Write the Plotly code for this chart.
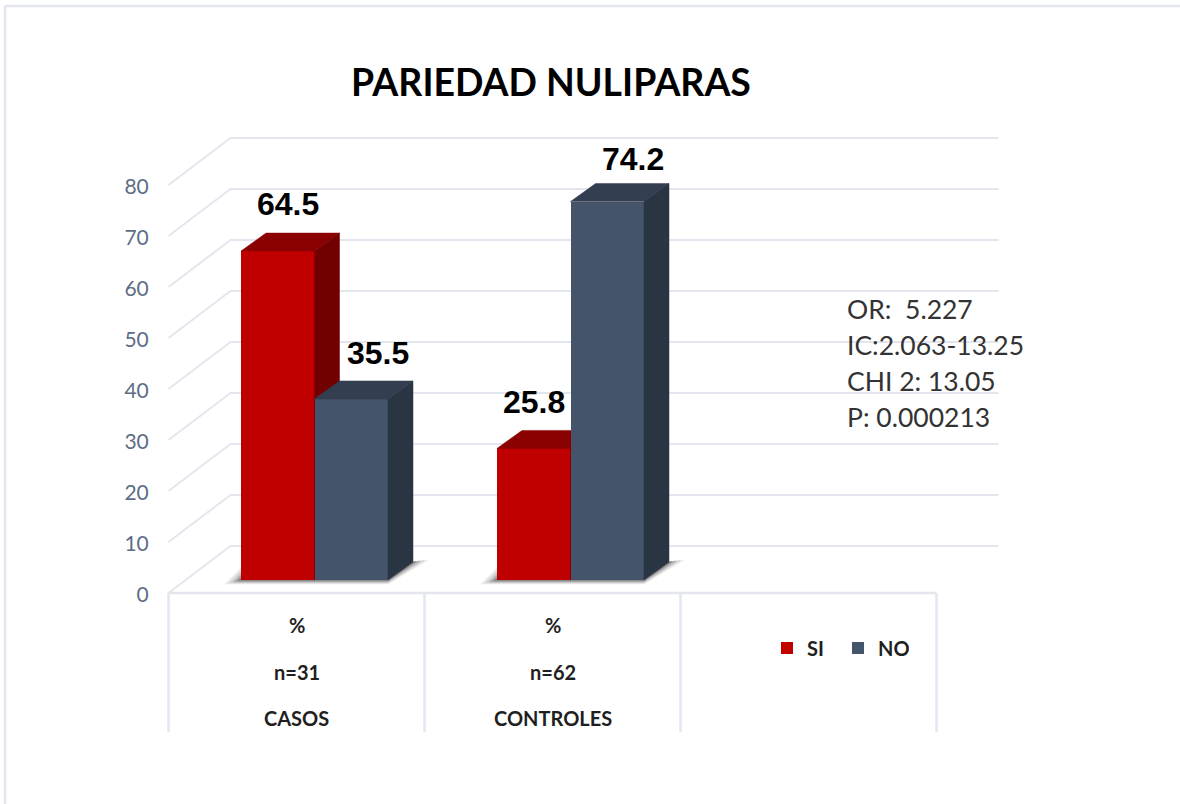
import plotly.graph_objects as go

# ---- data ----
GROUPS = ["CASOS", "CONTROLES"]
UNITS = ["%", "%"]
SAMPLE = ["n=31", "n=62"]
SI = [64.5, 25.8]
NO = [35.5, 74.2]
TICKS = [0, 10, 20, 30, 40, 50, 60, 70, 80]
STATS = ["OR:  5.227", "IC:2.063-13.25", "CHI 2: 13.05", "P: 0.000213"]
TITLE = "PARIEDAD NULIPARAS"

# ---- geometry, in axis units (1 x unit = one category, 1 y unit = one %) ----
W, H = 1180, 804
PX_X, PX_Y = 256.0, 5.1            # pixels per axis unit
X0_PX, Y0_PX = 296.5, 593.0        # pixel position of category 0 / value 0
XR = [(0 - X0_PX) / PX_X, (W - X0_PX) / PX_X]
YR = [(Y0_PX - H) / PX_Y, Y0_PX / PX_Y]
dx = lambda p: p / PX_X
dy = lambda p: p / PX_Y

WALL_X, WALL_Y = dx(62), dy(47)    # floor depth
BASE_X, BASE_Y = dx(18), dy(13)    # bars' front plane
DEPTH_X, DEPTH_Y = dx(25), dy(18)  # bar depth
BAR_W = dx(73.5)
CELL_L, CELL_R = -0.5, 2.5
TABLE_BOTTOM = -dy(139)

GRID = "#E3E6EE"
FONT = "Lato"

fig = go.Figure()


def lines(xs, ys, width=2, color=GRID, axes=("x", "y")):
    fig.add_trace(go.Scatter(x=xs, y=ys, mode="lines", line=dict(color=color, width=width),
                             showlegend=False, hoverinfo="skip", xaxis=axes[0], yaxis=axes[1]))


def poly(xs, ys, color, axes=("x", "y")):
    fig.add_trace(go.Scatter(x=xs + xs[:1], y=ys + ys[:1], mode="lines", fill="toself", fillcolor=color,
                             line=dict(color=color, width=0.5), showlegend=False, hoverinfo="skip",
                             xaxis=axes[0], yaxis=axes[1]))


# back wall, side wall
gx, gy = [], []
for t in TICKS:
    gx += [CELL_L, CELL_L + WALL_X, CELL_R + WALL_X, None]
    gy += [t, t + WALL_Y, t + WALL_Y, None]
lines(gx, gy)

# value axis: carries the tick labels only, nudged so the labels sit on the front edge of the grid
lines([CELL_L, CELL_L], [TICKS[0], TICKS[-1]], color="rgba(0,0,0,0)", axes=("x", "y4"))

# table under the axis
tx, ty = [CELL_L, CELL_R, None], [0, 0, None]
for i in range(4):
    tx += [CELL_L + i, CELL_L + i, None]
    ty += [0, TABLE_BOTTOM, None]
lines(tx, ty, width=2.5)

# floor shadows
for i in range(len(GROUPS)):
    left = i + BASE_X - BAR_W
    right = i + BASE_X + BAR_W
    for g, col in ((1.0, "#E8E8E8"), (0.72, "#CFCFCF"), (0.45, "#ABABAB"), (0.2, "#858585")):
        poly([left - dx(16) * g, left, right + DEPTH_X, right + DEPTH_X + dx(15) * g, right],
             [BASE_Y - dy(4) * g, BASE_Y + dy(12) * g, BASE_Y + DEPTH_Y, BASE_Y + DEPTH_Y + dy(2) * g,
              BASE_Y - dy(4) * g],
             col)


def bars(name, values, offset, front, top, side, axes):
    xs = [i + BASE_X for i in range(len(values))]
    fig.add_trace(go.Bar(name=name, x=xs, y=values, base=BASE_Y, width=BAR_W, offset=offset,
                         marker=dict(color=front, line=dict(width=0)),
                         xaxis=axes[0], yaxis=axes[1], hovertemplate=name + ": %{y}<extra></extra>"))
    for x, v in zip(xs, values):
        l, r = x + offset, x + offset + BAR_W
        t = v + BASE_Y
        poly([l, r, r + DEPTH_X, l + DEPTH_X], [t, t, t + DEPTH_Y, t + DEPTH_Y], top, axes)
        poly([r, r + DEPTH_X, r + DEPTH_X, r], [BASE_Y, BASE_Y + DEPTH_Y, t + DEPTH_Y, t], side, axes)


bars("SI", SI, -BAR_W, "#C00000", "#8B0000", "#730000", ("x2", "y2"))
bars("NO", NO, 0, "#44546A", "#333F50", "#2A3543", ("x3", "y3"))

ann = []
# data labels
LABEL_SHIFT_PX = [[10, 0], [27, 26]]
LABEL_RISE_PX = [[47, 46], [46, 43]]
for s, (series, off) in enumerate(((SI, -BAR_W / 2), (NO, BAR_W / 2))):
    for i, v in enumerate(series):
        ann.append(dict(x=i + BASE_X + off + dx(LABEL_SHIFT_PX[s][i]), y=v + BASE_Y + dy(LABEL_RISE_PX[s][i]),
                        text=f"<b>{v}</b>", showarrow=False, xanchor="center", yanchor="middle",
                        font=dict(family="Liberation Sans", size=32, color="#000000"),
                        xref="x", yref="y"))
# category table
ROW_Y = [-dy(32), -dy(79), -dy(125)]
for i in range(len(GROUPS)):
    for row, txt in zip(ROW_Y, (UNITS[i], SAMPLE[i], GROUPS[i])):
        ann.append(dict(x=i, y=row, text=f"<b>{txt}</b>", showarrow=False, xanchor="center", yanchor="middle",
                        font=dict(family=FONT, size=20, color="#1F1F1F"), xref="x", yref="y"))
# statistics block
for k, txt in enumerate(STATS):
    ann.append(dict(x=(845 - X0_PX) / PX_X, y=(Y0_PX - 309 - 36 * k) / PX_Y, text=txt, showarrow=False,
                    xanchor="left", yanchor="middle", font=dict(family=FONT, size=26.5, color="#333333"),
                    xref="x", yref="y"))

axis_off = dict(range=XR, visible=False, fixedrange=True)
fig.update_layout(
    width=W, height=H, margin=dict(l=0, r=0, t=0, b=0),
    paper_bgcolor="#FFFFFF", plot_bgcolor="rgba(0,0,0,0)",
    barmode="overlay", bargap=0,
    title=dict(text=f"<b>{TITLE}</b>", x=551 / W, y=1 - 83 / H, xanchor="center", yanchor="middle",
               font=dict(family=FONT, size=37.4, color="#000000")),
    xaxis=dict(range=XR, domain=[0, 1], visible=False, fixedrange=True),
    yaxis=dict(range=YR, domain=[0, 1], visible=False, fixedrange=True),
    yaxis4=dict(range=[YR[0] + dy(2), YR[1] + dy(2)], domain=[0, 1], overlaying="y", anchor="free",
                position=168 / W, side="left", tickmode="array", tickvals=TICKS,
                ticktext=[str(t) for t in TICKS], ticks="outside", ticklen=15, tickcolor="rgba(0,0,0,0)",
                showline=False, showgrid=False, zeroline=False, fixedrange=True,
                tickfont=dict(family=FONT, size=21, color="#5D6D86")),
    xaxis2=dict(axis_off, overlaying="x", anchor="y2"),
    yaxis2=dict(range=YR, visible=False, overlaying="y", anchor="x2", fixedrange=True),
    xaxis3=dict(axis_off, overlaying="x", anchor="y3"),
    yaxis3=dict(range=YR, visible=False, overlaying="y", anchor="x3", fixedrange=True),
    legend=dict(orientation="h", x=767 / W, y=1 - 648 / H, xanchor="left", yanchor="middle",
                bgcolor="rgba(0,0,0,0)", font=dict(family=FONT, size=20, color="#1F1F1F", weight="bold"),
                itemsizing="trace", entrywidth=26, entrywidthmode="pixels", traceorder="normal"),
    annotations=ann,
    shapes=[
        dict(type="line", xref="paper", yref="paper", x0=5 / W, x1=1, y0=1 - 6 / H, y1=1 - 6 / H,
             line=dict(color="#E3E6EE", width=2.5)),
        dict(type="line", xref="paper", yref="paper", x0=5 / W, x1=5 / W, y0=0, y1=1 - 6 / H,
             line=dict(color="#E3E6EE", width=2.5)),
    ],
)
fig.write_html("out.html", config=dict(displayModeBar=False),
               post_script="document.body.style.margin='0';document.body.style.overflow='hidden';")
